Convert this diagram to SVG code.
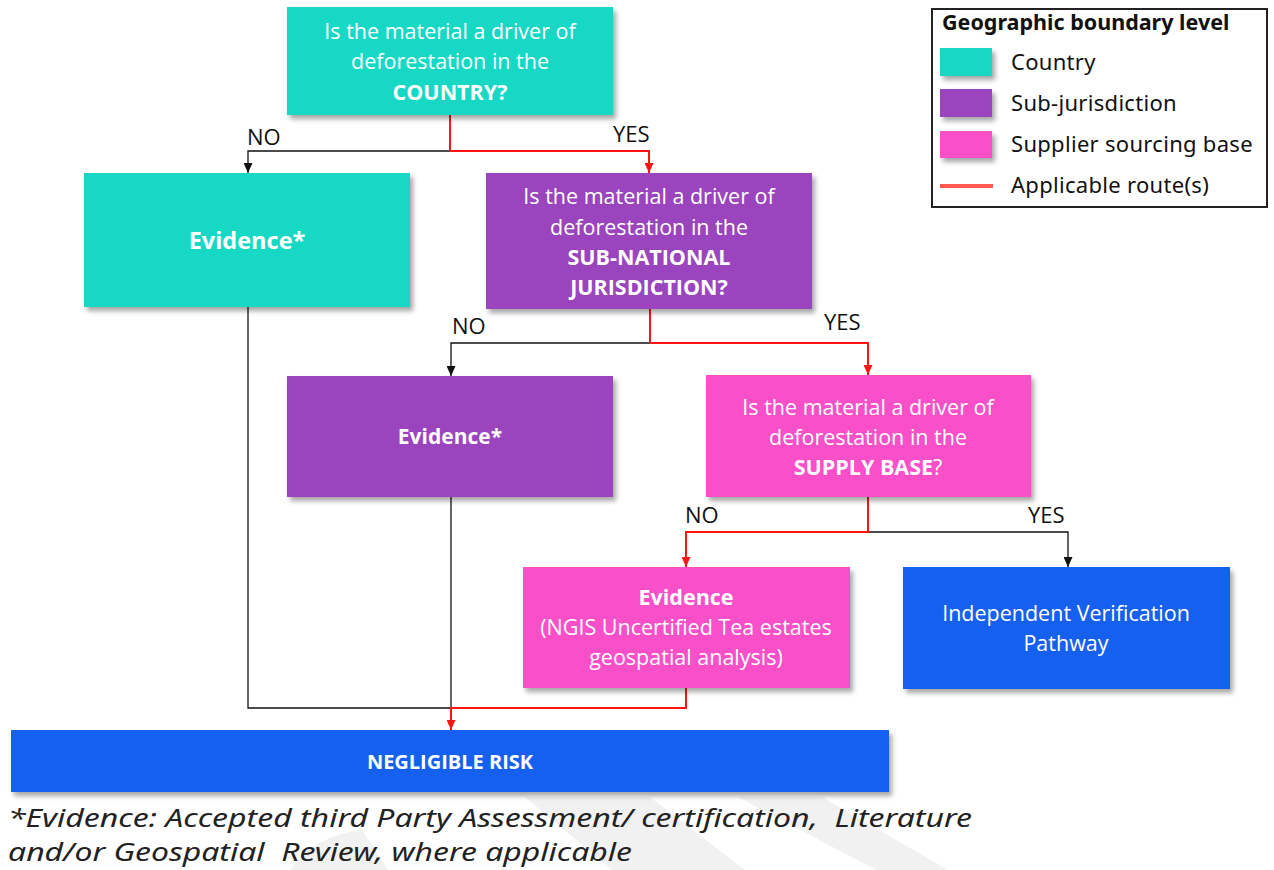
<svg xmlns="http://www.w3.org/2000/svg" width="1274" height="870" viewBox="0 0 1274 870">
<style>
.bx{font-family:"Open Sans","Noto Sans",sans-serif;font-size:21.5px;fill:#fff;text-anchor:middle}
.b{font-weight:bold}
.lbl{font-family:"Open Sans","Noto Sans",sans-serif;font-size:22px;fill:#111}
.lg{font-family:"Noto Sans","Open Sans",sans-serif;font-size:22px;fill:#111;letter-spacing:0.3px}
.ft{font-family:"Noto Sans","Open Sans",sans-serif;font-style:italic;font-size:25px;fill:#222;white-space:pre}
.k{fill:none;stroke:#111;stroke-width:1.3}
.r{fill:none;stroke:#ff1414;stroke-width:2}
.teal{fill:#14d8c4}.pur{fill:#9a44be}.pink{fill:#f950c8}.blue{fill:#1761f0}
</style>
<defs>
<filter id="sh" x="-10%" y="-10%" width="130%" height="140%">
<feDropShadow dx="3" dy="4" stdDeviation="2.5" flood-color="#000" flood-opacity="0.35"/>
</filter>
<marker id="ak" markerWidth="10" markerHeight="9" refX="10" refY="4.5" orient="auto" markerUnits="userSpaceOnUse" viewBox="0 0 10 9">
<path d="M0,0 L10,4.5 L0,9 Z" fill="#111"/>
</marker>
<marker id="ar" markerWidth="10" markerHeight="9" refX="10" refY="4.5" orient="auto" markerUnits="userSpaceOnUse" viewBox="0 0 10 9">
<path d="M0,0 L10,4.5 L0,9 Z" fill="#ff1414"/>
</marker>
</defs>
<rect width="1274" height="870" fill="#fff"/>
<g id="watermark" fill="#f1f1f1">
<polygon points="525,797 650,797 745,870 612,870"/>
<polygon points="738,797 822,797 948,870 876,870"/>
<path d="M290,870 Q315,835 362,830 L388,870 Z"/>
</g>
<g id="connectors">
<path class="k" d="M450,151 H248 V173" marker-end="url(#ak)"/>
<path class="r" d="M450,115 V151 H649 V173" marker-end="url(#ar)"/>
<path class="k" d="M650,343 H451 V376" marker-end="url(#ak)"/>
<path class="r" d="M650,309 V343 H868 V375" marker-end="url(#ar)"/>
<path class="k" d="M868,532 H1068 V567" marker-end="url(#ak)"/>
<path class="r" d="M868,497 V532 H686 V567" marker-end="url(#ar)"/>
<path class="k" d="M248,307 V708 H451"/>
<path class="k" d="M451,497 V708"/>
<path class="r" d="M686,688 V708 H451 V730" marker-end="url(#ar)"/>
<text class="lbl" x="247" y="145">NO</text>
<text class="lbl" x="613" y="142">YES</text>
<text class="lbl" x="452" y="334">NO</text>
<text class="lbl" x="824" y="330">YES</text>
<text class="lbl" x="685" y="523">NO</text>
<text class="lbl" x="1028" y="523">YES</text>
</g>
<g id="q-country">
<rect class="teal" x="287" y="7" width="326" height="108" filter="url(#sh)"/>
<text class="bx" x="450" y="39">Is the material a driver of</text>
<text class="bx" x="450" y="69">deforestation in the</text>
<text class="bx b" x="450" y="100">COUNTRY?</text>
</g>
<g id="ev-country">
<rect class="teal" x="84" y="173" width="326" height="134" filter="url(#sh)"/>
<text class="bx b" x="247" y="249" style="font-size:23.5px">Evidence*</text>
</g>
<g id="q-subnational">
<rect class="pur" x="486" y="173" width="326" height="136" filter="url(#sh)"/>
<text class="bx" x="649" y="204">Is the material a driver of</text>
<text class="bx" x="649" y="235">deforestation in the</text>
<text class="bx b" x="649" y="265">SUB-NATIONAL</text>
<text class="bx b" x="649" y="295">JURISDICTION?</text>
</g>
<g id="ev-subnational">
<rect class="pur" x="287" y="376" width="326" height="121" filter="url(#sh)"/>
<text class="bx b" x="450" y="444" style="font-size:21px">Evidence*</text>
</g>
<g id="q-supply">
<rect class="pink" x="706" y="375" width="325" height="122" filter="url(#sh)"/>
<text class="bx" x="868" y="415">Is the material a driver of</text>
<text class="bx" x="868" y="445">deforestation in the</text>
<text class="bx" x="868" y="475"><tspan class="b">SUPPLY BASE</tspan>?</text>
</g>
<g id="ev-supply">
<rect class="pink" x="523" y="567" width="327" height="121" filter="url(#sh)"/>
<text class="bx b" x="686" y="605">Evidence</text>
<text class="bx" x="686" y="635">(NGIS Uncertified Tea estates</text>
<text class="bx" x="686" y="665">geospatial analysis)</text>
</g>
<g id="ivp">
<rect class="blue" x="903" y="567" width="327" height="122" filter="url(#sh)"/>
<text class="bx" x="1066" y="621">Independent Verification</text>
<text class="bx" x="1066" y="651">Pathway</text>
</g>
<g id="negligible">
<rect class="blue" x="11" y="730" width="878" height="62" filter="url(#sh)"/>
<text class="bx b" x="450" y="769" style="font-size:20px">NEGLIGIBLE RISK</text>
</g>
<g id="legend">
<rect x="932" y="9" width="335" height="198" fill="#fff" stroke="#222" stroke-width="2"/>
<text class="lg b" x="942" y="30" style="font-size:21.5px;letter-spacing:0">Geographic boundary level</text>
<rect class="teal" x="940" y="48" width="52" height="28" filter="url(#sh)"/>
<text class="lg" x="1011" y="70">Country</text>
<rect class="pur" x="940" y="89" width="52" height="28" filter="url(#sh)"/>
<text class="lg" x="1011" y="111">Sub-jurisdiction</text>
<rect class="pink" x="940" y="131" width="52" height="27" filter="url(#sh)"/>
<text class="lg" x="1011" y="152">Supplier sourcing base</text>
<line x1="940" y1="186" x2="993" y2="186" stroke="#ff5a50" stroke-width="4"/>
<text class="lg" x="1011" y="193">Applicable route(s)</text>
</g>
<g id="footnote">
<text class="ft" x="8" y="827" textLength="964" lengthAdjust="spacingAndGlyphs">*Evidence: Accepted third Party Assessment/ certification,  Literature</text>
<text class="ft" x="8" y="861" textLength="624" lengthAdjust="spacingAndGlyphs">and/or Geospatial  Review, where applicable</text>
</g>
</svg>
